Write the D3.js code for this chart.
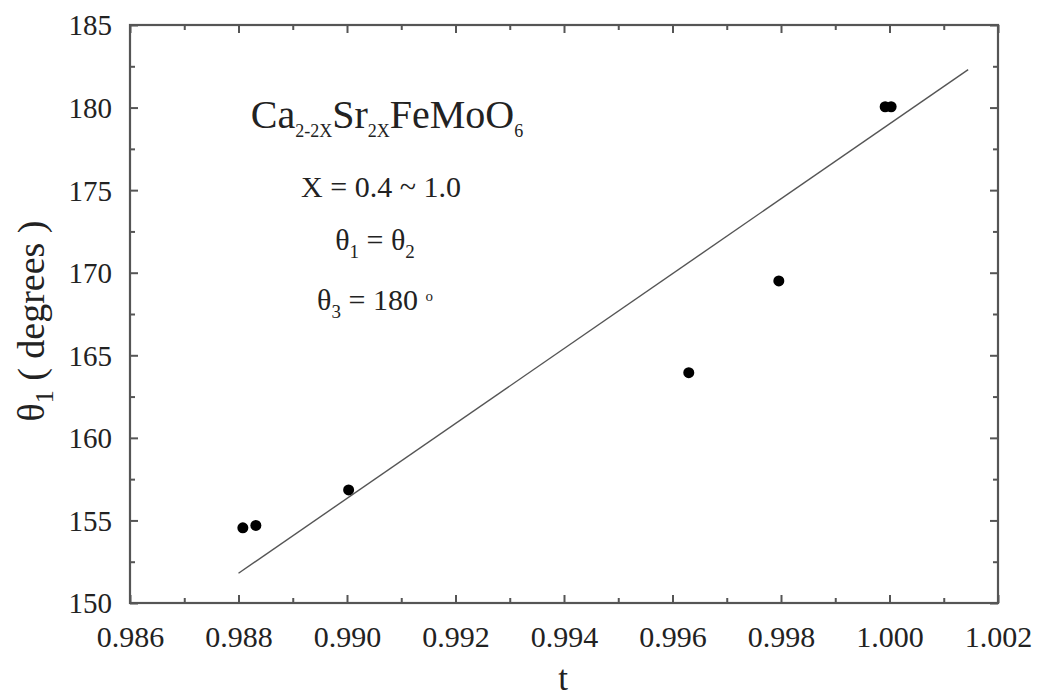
<!DOCTYPE html>
<html>
<head>
<meta charset="utf-8">
<script src="https://cdn.jsdelivr.net/npm/d3@7"></script>
<style>
  html, body { margin: 0; padding: 0; background: #fff; }
  svg { display: block; }
</style>
</head>
<body>
<svg id="chart" width="1038" height="698"></svg>
<script>
// Data
const tValues = [0.98808, 0.98832, 0.99003, 0.99630, 0.99796, 0.99992, 1.00003];
const thetaValues = [154.55, 154.7, 156.85, 163.95, 169.5, 180.05, 180.05];
const fitT = [0.98800, 1.00145];
const fitTheta = [151.8, 182.3];
const xTicks = [0.986, 0.988, 0.990, 0.992, 0.994, 0.996, 0.998, 1.000, 1.002];
const xMinorTicks = [0.987, 0.989, 0.991, 0.993, 0.995, 0.997, 0.999, 1.001];
const yTicks = [150, 155, 160, 165, 170, 175, 180, 185];
const yMinorTicks = [152.5, 157.5, 162.5, 167.5, 172.5, 177.5, 182.5];

const FONT = "'Liberation Serif'";
const svg = d3.select("#chart");
const L = 130, R = 998, T = 25, B = 603;

const x = d3.scaleLinear().domain([0.986, 1.002]).range([L, R]);
const y = d3.scaleLinear().domain([150, 185]).range([B, T]);

const axisColor = "#555";
const textColor = "#222";

function addAxis(gen, transform, ticks, size) {
  const g = svg.append("g").attr("transform", transform)
    .call(gen.tickValues(ticks).tickSize(size).tickFormat(""));
  g.select(".domain").remove();
  g.selectAll(".tick line").attr("stroke", axisColor).attr("stroke-width", 2);
  return g;
}
addAxis(d3.axisBottom(x), `translate(0,${B})`, xTicks, -8);
addAxis(d3.axisBottom(x), `translate(0,${B})`, xMinorTicks, -5);
addAxis(d3.axisTop(x), `translate(0,${T})`, xTicks, -8);
addAxis(d3.axisTop(x), `translate(0,${T})`, xMinorTicks, -5);
addAxis(d3.axisLeft(y), `translate(${L},0)`, yTicks, -8);
addAxis(d3.axisLeft(y), `translate(${L},0)`, yMinorTicks, -5);
addAxis(d3.axisRight(y), `translate(${R},0)`, yTicks, -8);
addAxis(d3.axisRight(y), `translate(${R},0)`, yMinorTicks, -5);

svg.append("rect").attr("x", L).attr("y", T).attr("width", R - L).attr("height", B - T)
  .attr("fill", "none").attr("stroke", axisColor).attr("stroke-width", 2.2);

const xl = svg.append("g").attr("transform", `translate(0,${B})`)
  .call(d3.axisBottom(x).tickValues(xTicks).tickSize(0).tickPadding(0).tickFormat(d3.format(".3f")));
xl.select(".domain").remove();
xl.selectAll("text").attr("y", 44).attr("dy", null).attr("fill", textColor)
  .style("font-family", FONT).style("font-size", "30px");

const yl = svg.append("g").attr("transform", `translate(${L},0)`)
  .call(d3.axisLeft(y).tickValues(yTicks).tickSize(0).tickPadding(0).tickFormat(d3.format("d")));
yl.select(".domain").remove();
yl.selectAll("text").attr("x", -18).attr("dy", "0.34em").attr("fill", textColor)
  .style("font-family", FONT).style("font-size", "29px");

const line = d3.line().x(d => x(d[0])).y(d => y(d[1]));
svg.append("path").datum(d3.zip(fitT, fitTheta)).attr("d", line)
  .attr("fill", "none").attr("stroke", "#555").attr("stroke-width", 1.4);

svg.append("g").selectAll("circle").data(d3.zip(tValues, thetaValues)).join("circle")
  .attr("cx", d => x(d[0])).attr("cy", d => y(d[1])).attr("r", 5.5).attr("fill", "#000");

function txt(xp, yp, size) {
  return svg.append("text").attr("x", xp).attr("y", yp).attr("text-anchor", "middle")
    .attr("fill", textColor).style("font-family", FONT).style("font-size", size + "px");
}
function span(parent, s, size, dy) {
  const t = parent.append("tspan").text(s);
  if (size) t.style("font-size", size + "px");
  if (dy) t.attr("dy", dy);
  return t;
}

txt(563, 690, 35).text("t");

const yt = svg.append("text").attr("transform", "translate(44,321) rotate(-90)")
  .attr("text-anchor", "middle").attr("fill", textColor)
  .style("font-family", FONT).style("font-size", "38px");
span(yt, "θ");
span(yt, "1", 26, 9);
span(yt, " ( degrees )", null, -9);

const a1 = txt(387, 128, 40);
span(a1, "Ca");
span(a1, "2-2X", 18, 9);
span(a1, "Sr", null, -9);
span(a1, "2X", 18, 9);
span(a1, "FeMoO", null, -9);
span(a1, "6", 18, 9);

txt(381, 197, 30).text("X = 0.4 ~ 1.0");

const a3 = txt(375, 250, 30);
span(a3, "θ");
span(a3, "1", 19, 8);
span(a3, " = θ", null, -8);
span(a3, "2", 19, 8);

const a4 = txt(375, 310, 30);
span(a4, "θ");
span(a4, "3", 19, 8);
span(a4, " = 180  ", null, -8);
span(a4, "o", 15, -9);
</script>
</body>
</html>
